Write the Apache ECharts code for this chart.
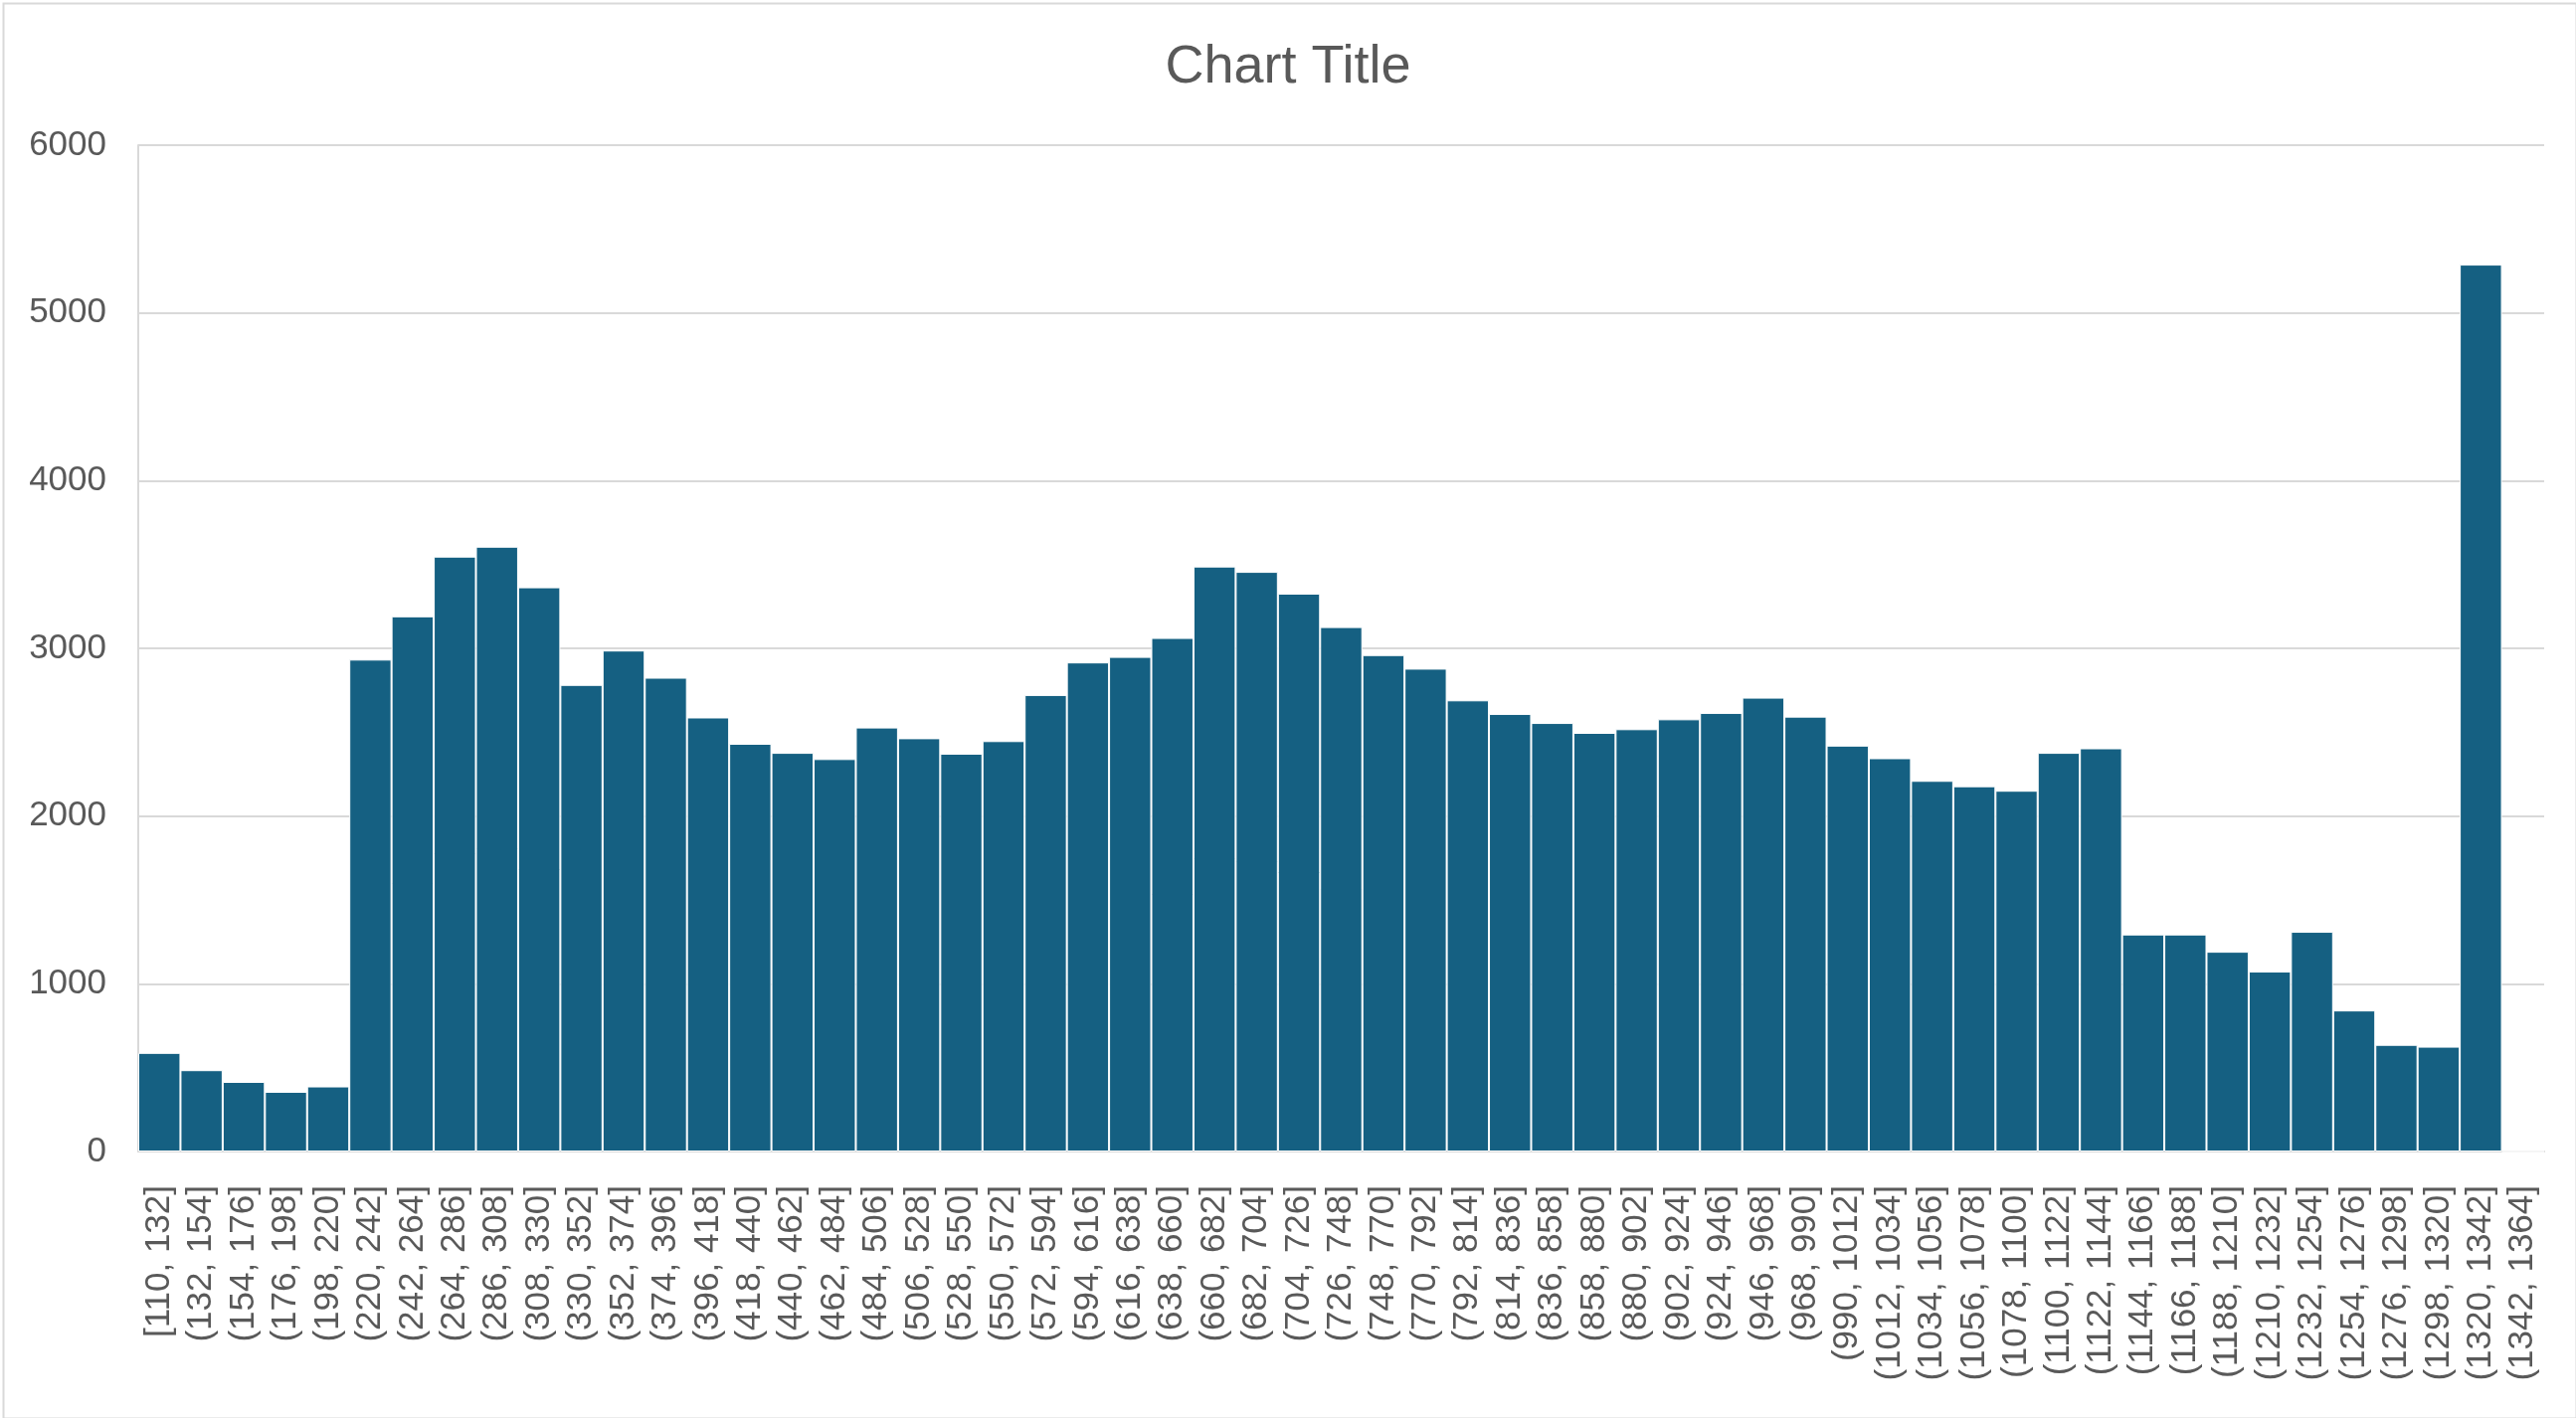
<!DOCTYPE html>
<html>
<head>
<meta charset="utf-8">
<script src="https://cdn.jsdelivr.net/npm/echarts@6/dist/echarts.min.js"></script>
<style>
html,body{margin:0;padding:0;background:#fff;}
#chart{width:2590px;height:1426px;}
</style>
</head>
<body>
<div id="chart"></div>
<script>
const binStarts = [110,132,154,176,198,220,242,264,286,308,330,352,374,396,418,440,462,484,506,528,550,572,594,616,638,660,682,704,726,748,770,792,814,836,858,880,902,924,946,968,990,1012,1034,1056,1078,1100,1122,1144,1166,1188,1210,1232,1254,1276,1298,1320,1342];
const binWidth = 22;
const categories = binStarts.map((s, i) => (i === 0 ? '[' : '(') + s + ', ' + (s + binWidth) + ']');
const counts = [588,485,415,356,388,2933,3191,3547,3606,3364,2782,2987,2825,2588,2431,2377,2340,
  2528,2464,2372,2447,2722,2916,2949,3062,3488,3456,3326,3127,2960,2879,2690,2609,2555,2496,2518,2577,2615,
  2706,2593,2420,2345,2210,2178,2151,2377,2404,1294,1294,1191,1073,1310,841,636,625,5288,0];
const yTicks = [0,1000,2000,3000,4000,5000,6000];

const chart = echarts.init(document.getElementById('chart'));
chart.setOption({
  backgroundColor: '#fff',
  animation: false,
  title: {
    text: 'Chart Title',
    left: 'center',
    top: 36,
    textStyle: {fontFamily: 'Liberation Sans', fontSize: 54, fontWeight: 'normal', color: '#595959'}
  },
  graphic: [{
    type: 'rect', left: 1, top: 1,
    shape: {width: 2587, height: 1423},
    style: {fill: 'none', stroke: '#d9d9d9', lineWidth: 2},
    silent: true
  }],
  grid: {left: 139, right: 32, top: 146, bottom: 268},
  xAxis: {
    type: 'category',
    data: categories,
    axisLine: {show: true, lineStyle: {color: '#d9d9d9', width: 2}},
    axisTick: {show: false},
    axisLabel: {
      interval: 0, rotate: 90, margin: 34,
      fontFamily: 'Liberation Sans', fontSize: 35, color: '#595959'
    }
  },
  yAxis: {
    type: 'value',
    min: yTicks[0], max: yTicks[yTicks.length - 1], interval: 1000,
    axisLine: {show: true, lineStyle: {color: '#d9d9d9', width: 2}},
    axisTick: {show: false},
    splitLine: {lineStyle: {color: '#d9d9d9', width: 2}},
    axisLabel: {margin: 32, fontFamily: 'Liberation Sans', fontSize: 35, color: '#595959',
      formatter: v => String(v)}
  },
  series: [{
    type: 'bar',
    data: counts,
    barCategoryGap: '0%',
    itemStyle: {color: '#156082', borderColor: '#ffffff', borderWidth: 1}
  }]
});
</script>
</body>
</html>
